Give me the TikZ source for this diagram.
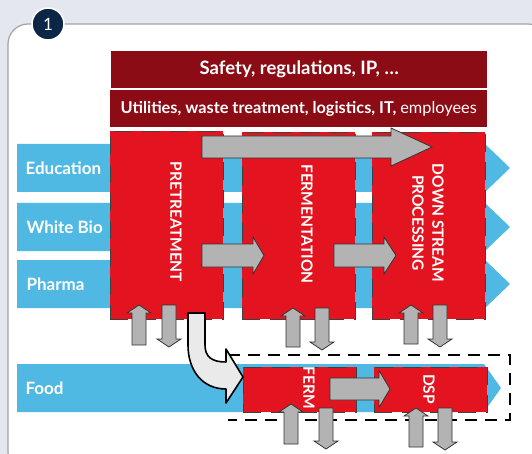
\documentclass[tikz,border=0pt]{standalone}
\usepackage{fontspec}
\setmainfont{Lato}
\usepackage{xcolor}
\usetikzlibrary{arrows.meta, positioning, calc}
\definecolor{bgblue}{HTML}{E4E7F0}
\definecolor{panelline}{HTML}{A3A3A8}
\definecolor{navy}{HTML}{0C2647}
\definecolor{procred}{HTML}{E3141F}
\definecolor{darkred}{HTML}{8C0C15}
\definecolor{skyblue}{HTML}{4FB9E3}
\definecolor{arrowgray}{HTML}{B3B3B3}
\definecolor{bendgray}{HTML}{EAEAEA}
% horizontal block arrow: x start, x head, x tip, y middle, shaft half, head half
\newcommand{\rightblock}[6]{%
  \draw[garrow] (#1,#4-#5) -- (#2,#4-#5) -- (#2,#4-#6) -- (#3,#4) -- (#2,#4+#6) -- (#2,#4+#5) -- (#1,#4+#5) -- cycle;}
% vertical block arrows: x centre, y tip, y tail
\newcommand{\upblock}[3]{%
  \draw[garrow] (#1-7,#3) -- (#1-7,#2+8) -- (#1-12,#2+8) -- (#1,#2) -- (#1+12,#2+8) -- (#1+7,#2+8) -- (#1+7,#3) -- cycle;}
\newcommand{\downblock}[3]{%
  \draw[garrow] (#1-7,#3) -- (#1-7,#2-8) -- (#1-12,#2-8) -- (#1,#2) -- (#1+12,#2-8) -- (#1+7,#2-8) -- (#1+7,#3) -- cycle;}
% blue market arrow: y top, y bottom, x head, x tip
\newcommand{\marketarrow}[4]{%
  \fill[skyblue] (17,#1) -- (#3,#1) -- (#4,{(#1+#2)/2}) -- (#3,#2) -- (17,#2) -- cycle;}

\begin{document}
\begin{tikzpicture}[x=1pt, y=-1pt,
        topbar/.style={fill=darkred, text=white, inner sep=0pt, anchor=north west},
        proc/.style={fill=procred, draw=black!75, dash pattern=on 18pt off 10pt, line width=0.8pt, inner sep=0pt, anchor=north west},
        market/.style={text=white, anchor=west, font=\bfseries\fontsize{17}{20}\selectfont},
        vlabel/.style={text=white, rotate=-90, align=center, font=\bfseries\fontsize{15.5}{20}\selectfont},
        garrow/.style={fill=arrowgray, draw=black!80, line width=0.8pt}
    ]
        \useasboundingbox (0,0) rectangle (532,454);
        \fill[bgblue] (0,0) rectangle (532,454);

        % panel and badge
        \draw[panelline, fill=white, line width=1.2pt, rounded corners=20pt] (8,24) rectangle (548,472);
        \node[circle, fill=navy, draw=white, line width=1.5pt, minimum size=32pt, inner sep=0pt, text=white,
              font=\rmfamily\fontsize{17}{17}\selectfont] (badge) at (48,24) {1};

        % overall framework bars
        \node[topbar, minimum width=376pt, minimum height=37pt, font=\bfseries\fontsize{18.5}{20}\selectfont] (safety) at (111,51) {Safety, regulations, IP, \dots};
        \node[topbar, minimum width=377pt, minimum height=37pt, font=\bfseries\fontsize{16.3}{18}\selectfont] (utilities) at (110,90) {Utilities, waste treatment, logistics, IT, {\mdseries employees}};

        % dashed frame round the food line
        \draw[black, line width=1.6pt, dash pattern=on 12pt off 8pt] (228,355) -- (510,355) -- (510,420) -- (228,420);

        % market lines
        \marketarrow{144}{192}{485}{510}
        \marketarrow{203}{251}{485}{510}
        \marketarrow{260}{308}{485}{510}
        \marketarrow{364}{412}{484}{501}
        \node[market] (edu) at (22,168) {Education};
        \node[market] (wbio) at (23,227) {White Bio};
        \node[market] (pharma) at (23,284) {Pharma};
        \node[market] (food) at (22,388) {Food};

        % process steps
        \node[proc, minimum width=113pt, minimum height=188pt] (pre) at (110,131) {};
        \node[proc, minimum width=113pt, minimum height=187pt] (ferm) at (242,132) {};
        \node[proc, minimum width=113pt, minimum height=187pt] (dsp) at (372,132) {};
        \node[proc, minimum width=113pt, minimum height=45pt] (fermS) at (243,367) {};
        \node[proc, minimum width=113pt, minimum height=45pt] (dspS) at (374,367) {};

        \node[vlabel] (preL) at (176,222) {PRETREATMENT};
        \node[vlabel] (fermL) at (307,224) {FERMENTATION};
        \node[vlabel] (dspL) at (428,223) {DOWN STREAM\\PROCESSING};
        \node[vlabel] (fermSL) at (309,388) {FERM};
        \node[vlabel] (dspSL) at (429,389) {DSP};

        % flow between steps
        \rightblock{202}{391}{432}{147}{11}{19}
        \rightblock{202}{253}{264}{255.5}{11.5}{18.5}
        \rightblock{334}{384}{396}{255.5}{11.5}{18.5}
        \rightblock{330}{379}{390}{389}{11}{18.5}

        % in and out of each step
        \upblock{139}{305}{345}  \downblock{169}{347}{305}
        \upblock{293}{308}{347}  \downblock{322}{350}{308}
        \upblock{411}{305}{344}  \downblock{440}{347}{305}
        \upblock{291}{404}{444}  \downblock{326}{449}{408}
        \upblock{416}{408}{447}  \downblock{445}{450}{408}

        % spin-off to the food line
        \draw[fill=bendgray, draw=black, line width=1.6pt, line join=round]
            (188,313) -- (205,313) -- (205,345) .. controls (205,357) and (212,362) .. (226,362)
            -- (226,349) -- (243,377) -- (226,403) -- (226,389)
            .. controls (202,389) and (188,370) .. (188,345) -- cycle;
    \end{tikzpicture}
\end{document}
